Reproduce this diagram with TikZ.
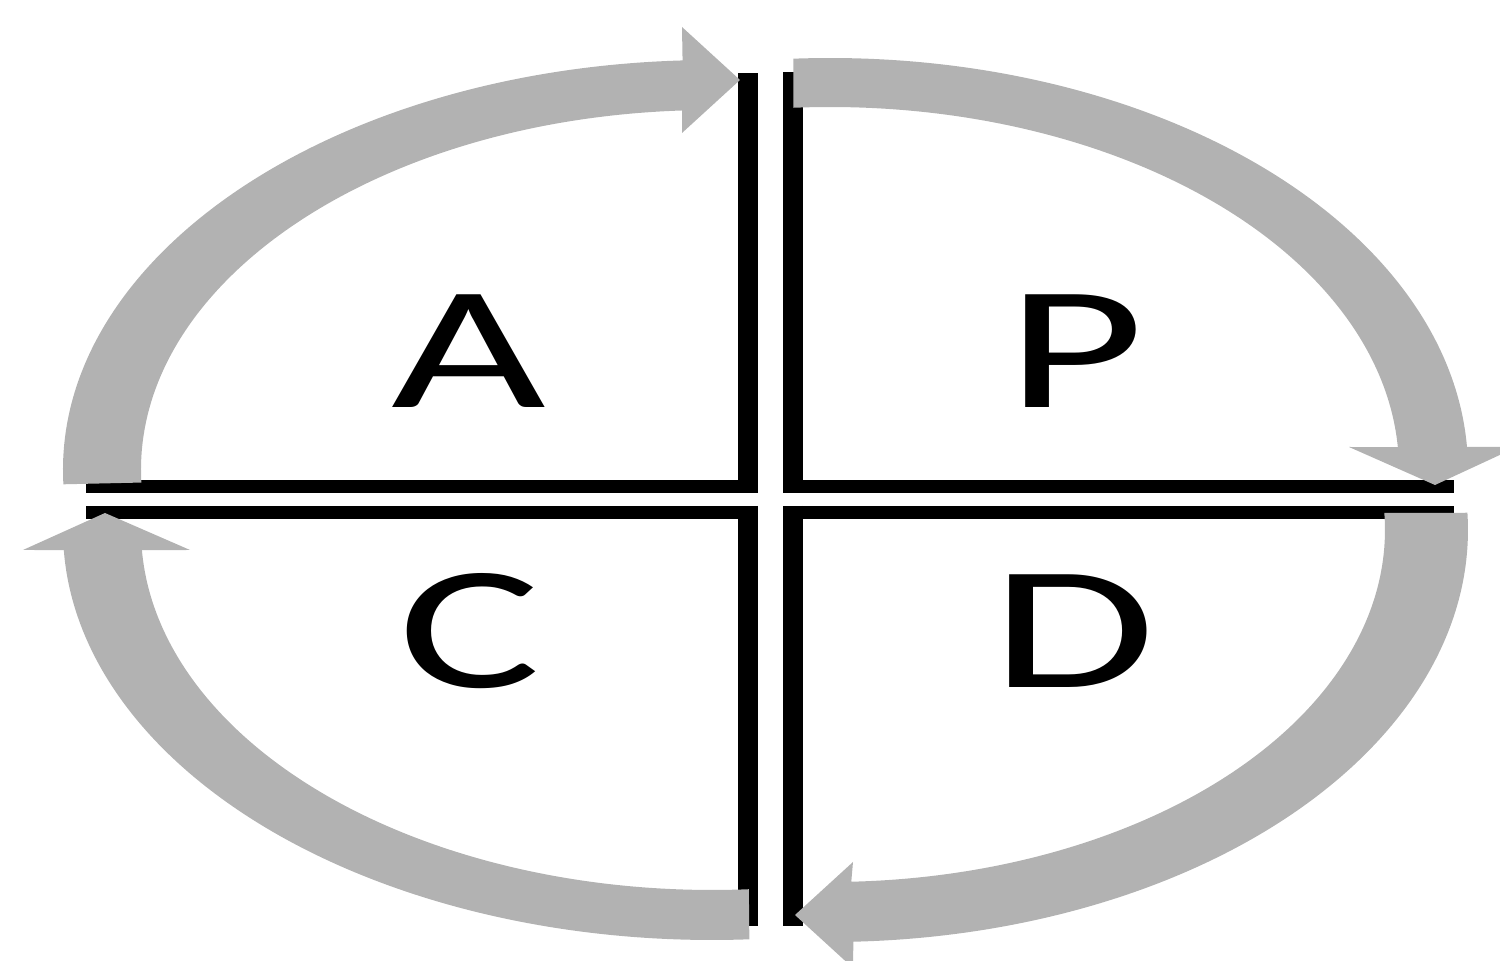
\documentclass[tikz,border=0pt]{standalone}
\usepackage{fontspec}
\setmainfont{Carlito}
\usepackage{graphicx}
\usetikzlibrary{calc}
\definecolor{bandgray}{RGB}{178,178,178}

\begin{document}
\begin{tikzpicture}[
  band/.style={fill=bandgray},
  hbar/.style={draw=black, line width=1.3mm},
  vbar/.style={draw=black, line width=2mm},
  letter/.style={inner sep=0pt, anchor=base, font=\fontsize{50}{60}\selectfont},
]
\useasboundingbox (0,0) rectangle (15,9.61);

% centres of the four quarter ellipses
\coordinate (ctl) at (7.12,4.91);
\coordinate (ctr) at (8.30,4.91);
\coordinate (cbl) at (7.12,4.31);
\coordinate (cbr) at (8.30,4.31);

% Cross
\draw[hbar] (0.86,4.745) -- (7.58,4.745);
\draw[vbar] (7.48,4.68) -- (7.48,8.88);
\draw[hbar] (7.83,4.745) -- (14.54,4.745);
\draw[vbar] (7.93,4.68) -- (7.93,8.89);
\draw[hbar] (0.86,4.485) -- (7.58,4.485);
\draw[vbar] (7.48,4.55) -- (7.48,0.35);
\draw[hbar] (7.83,4.485) -- (14.54,4.485);
\draw[vbar] (7.93,4.55) -- (7.93,0.35);

% Arcs
\fill[band] (ctl) ++(182:6.49cm and 4.10cm)
  arc[start angle=182, end angle=92.6, x radius=6.49, y radius=4.10]
  -- (6.82,9.34) -- (7.40,8.81) -- (6.82,8.28)
  -- ($(ctl)+(93:5.71cm and 3.60cm)$)
  arc[start angle=93, end angle=182, x radius=5.71, y radius=3.60] -- cycle;

\fill[band] (ctr) ++(93.3:6.38cm and 4.12cm)
  arc[start angle=93.3, end angle=3.2, x radius=6.38, y radius=4.12]
  -- (15.17,5.14) -- (14.35,4.76) -- (13.49,5.14)
  -- ($(ctr)+(3.6:5.69cm and 3.63cm)$)
  arc[start angle=3.6, end angle=93.7, x radius=5.69, y radius=3.63] -- cycle;

\fill[band] (cbr) ++(2.4:6.38cm and 4.12cm)
  arc[start angle=2.4, end angle=-87.9, x radius=6.38, y radius=4.12]
  -- (8.53,-0.07) -- (7.95,0.46) -- (8.53,0.99)
  -- ($(cbr)+(-87.8:5.55cm and 3.52cm)$)
  arc[start angle=-87.8, end angle=2.8, x radius=5.55, y radius=3.52] -- cycle;

\fill[band] (cbl) ++(-86.7:6.49cm and 4.10cm)
  arc[start angle=-86.7, end angle=-177.2, x radius=6.49, y radius=4.10]
  -- (0.23,4.11) -- (1.05,4.48) -- (1.90,4.11)
  -- ($(cbl)+(-176.8:5.71cm and 3.60cm)$)
  arc[start angle=-176.8, end angle=-86.3, x radius=5.71, y radius=3.60] -- cycle;

% Letters
\node[letter] (act)   at (4.69,5.53) {\scalebox{1.52}[1]{A}};
\node[letter] (plan)  at (10.75,5.53) {\scalebox{1.52}[1]{P}};
\node[letter] (check) at (4.70,2.73) {\scalebox{1.52}[1]{C}};
\node[letter] (do)    at (10.74,2.73) {\scalebox{1.52}[1]{D}};

\end{tikzpicture}
\end{document}
